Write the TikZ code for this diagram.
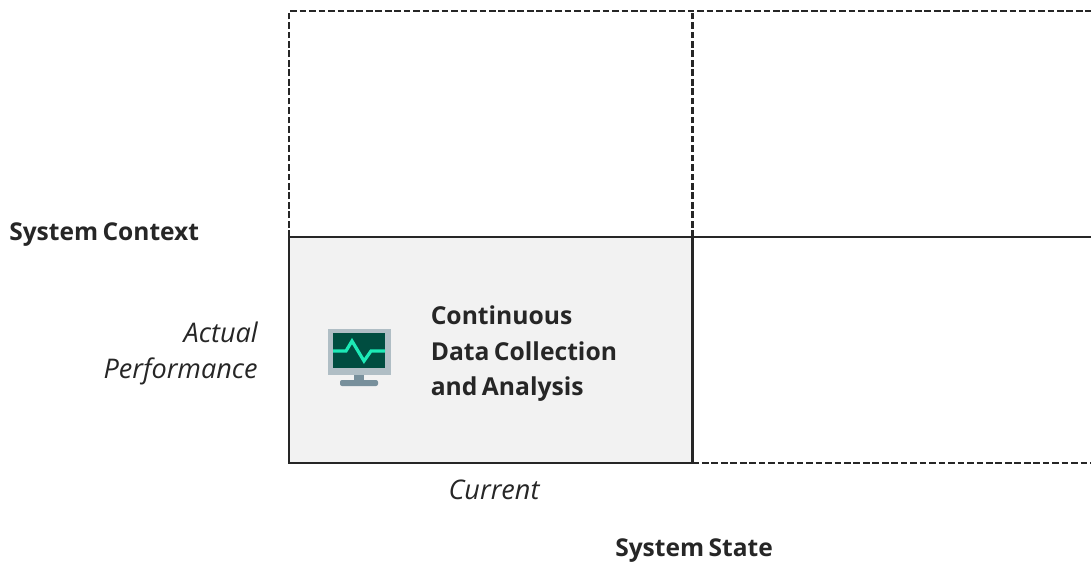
\documentclass[tikz,border=0pt]{standalone}
\usepackage{fontspec}
\setmainfont{Open Sans}
\newfontfamily\headfont[WordSpace=0.45]{Open Sans}
\newfontfamily\bodyfont[WordSpace=0.7]{Open Sans}
\definecolor{ink}{HTML}{262626}
\definecolor{panel}{HTML}{F2F2F2}
\definecolor{moni}{HTML}{B0BEC5}
\definecolor{standc}{HTML}{78909C}
\definecolor{scr}{HTML}{004D40}
\definecolor{puls}{HTML}{1DE9B6}
\tikzset{
  gridline/.style={draw=ink,line width=1.8pt},
  griddash/.style={draw=ink,line width=1.6pt,dash pattern=on 5pt off 2.1pt},
  headlabel/.style={font=\headfont\fontsize{18.4pt}{22pt}\selectfont\bfseries,text=ink,inner sep=0pt},
  subhead/.style={font=\fontsize{20.3pt}{26.6pt}\selectfont\itshape,text=ink,inner sep=0pt},
  boxlabel/.style={font=\bodyfont\fontsize{18.5pt}{26.6pt}\selectfont\bfseries,text=ink,inner sep=0pt,align=left}
}
\begin{document}
\begin{tikzpicture}[x=0.75pt,y=-0.75pt]
\useasboundingbox (0,0) rectangle (1091,565);
\coordinate (tl) at (289,11);
\coordinate (tm) at (692.5,11);
\coordinate (tr) at (1091,11);
\coordinate (ml) at (289,237);
\coordinate (mm) at (692.5,237);
\coordinate (mr) at (1091,237);
\coordinate (bl) at (289,463);
\coordinate (bm) at (692.5,463);
\coordinate (br) at (1091,463);
\fill[panel] (ml) rectangle (bm);
\draw[griddash] (ml) -- (tl) -- (tr);
\draw[griddash] (mm) -- (tm);
\draw[griddash] (bm) -- (br);
\draw[gridline] (mr) -- (ml) -- (bl) -- (bm) -- (mm);
% monitor icon
\fill[moni] (328,329) rectangle (391,375);
\fill[scr] (333,333) rectangle (385,368);
\fill[standc] (354,375) rectangle (364,380);
\fill[standc,rounded corners=1.5pt] (340,380) rectangle (378,386);
\draw[puls,line width=2.4pt,line join=miter] (333,351) -- (346,351) -- (352,341) -- (364,361) -- (371,351) -- (385,351);
% text
\node[headlabel,anchor=base west] (ctx) at (9,240) {System Context};
\node[headlabel,anchor=base] (state) at (694,556) {System State};
\node[subhead,anchor=base east] (act) at (258,342.5) {Actual};
\node[subhead,anchor=base east] (perf) at (258,378.5) {Performance};
\node[subhead,anchor=base] (cur) at (494,499.5) {Current};
\node[boxlabel,anchor=base west] (l1) at (430.5,324) {Continuous};
\node[boxlabel,anchor=base west] (l2) at (430.5,360) {Data Collection};
\node[boxlabel,anchor=base west] (l3) at (430.5,395) {and Analysis};
\end{tikzpicture}
\end{document}
